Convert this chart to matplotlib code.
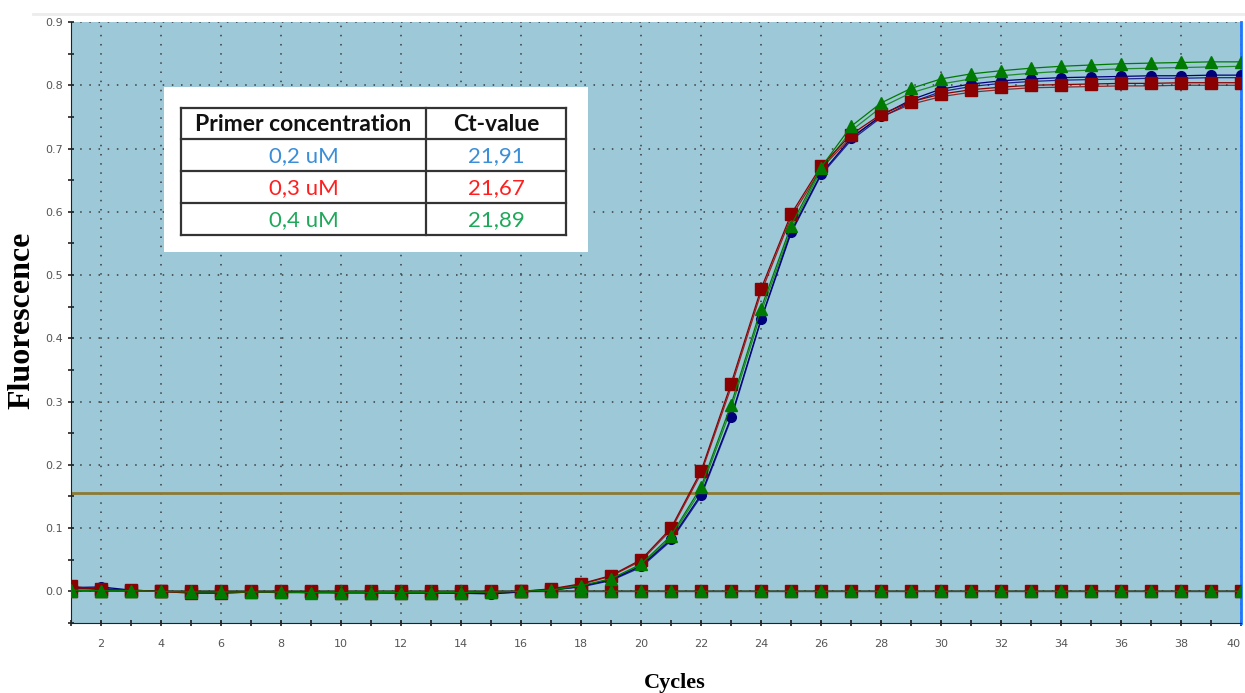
import matplotlib
matplotlib.use('Agg')
import matplotlib.pyplot as plt
from matplotlib.patches import Rectangle
from matplotlib.lines import Line2D
import numpy as np

#------------ DATA ----------------------------
cycles = list(range(1, 41))

# 0,2 uM (two replicates)
blue_a = [0.006, 0.007, 0.002, 0.000, -0.001, -0.001, -0.001, -0.001, -0.002, -0.002,
          -0.002, -0.002, -0.002, -0.003, -0.004, -0.001, 0.002, 0.008, 0.018, 0.040,
          0.082, 0.153, 0.275, 0.430, 0.568, 0.660, 0.716, 0.752, 0.777, 0.794,
          0.802, 0.807, 0.810, 0.812, 0.813, 0.814, 0.815, 0.815, 0.816, 0.816]
blue_b = [0.004, 0.005, 0.001, 0.000, -0.001, -0.001, -0.001, -0.002, -0.002, -0.002,
          -0.002, -0.003, -0.003, -0.003, -0.003, -0.001, 0.002, 0.007, 0.017, 0.038,
          0.080, 0.150, 0.272, 0.428, 0.566, 0.658, 0.713, 0.749, 0.773, 0.790,
          0.798, 0.803, 0.806, 0.808, 0.809, 0.810, 0.811, 0.811, 0.812, 0.812]

# 0,3 uM
red_a = [0.008, 0.003, 0.002, 0.000, -0.003, -0.003, -0.001, -0.001, -0.001, -0.002,
         -0.002, -0.002, -0.002, -0.002, -0.001, 0.000, 0.004, 0.012, 0.025, 0.050,
         0.100, 0.190, 0.328, 0.478, 0.596, 0.672, 0.722, 0.754, 0.774, 0.786,
         0.793, 0.797, 0.800, 0.801, 0.802, 0.803, 0.803, 0.804, 0.804, 0.804]
red_b = [0.006, 0.002, 0.001, 0.000, -0.002, -0.003, -0.001, -0.001, -0.001, -0.002,
         -0.002, -0.002, -0.002, -0.002, -0.001, 0.000, 0.003, 0.011, 0.024, 0.048,
         0.097, 0.186, 0.322, 0.472, 0.591, 0.668, 0.718, 0.750, 0.770, 0.782,
         0.789, 0.793, 0.796, 0.797, 0.798, 0.799, 0.799, 0.800, 0.800, 0.800]

# 0,4 uM
green_a = [0.002, 0.001, 0.001, 0.000, -0.001, -0.001, -0.001, -0.001, -0.002, -0.002,
           -0.002, -0.002, -0.002, -0.002, -0.001, 0.000, 0.002, 0.009, 0.020, 0.043,
           0.088, 0.165, 0.295, 0.447, 0.578, 0.670, 0.735, 0.772, 0.795, 0.810,
           0.818, 0.823, 0.827, 0.830, 0.832, 0.834, 0.835, 0.836, 0.837, 0.837]
green_b = [0.002, 0.001, 0.000, 0.000, -0.001, -0.001, -0.001, -0.001, -0.001, -0.002,
           -0.002, -0.002, -0.002, -0.002, -0.001, 0.000, 0.002, 0.008, 0.019, 0.041,
           0.085, 0.160, 0.288, 0.440, 0.572, 0.666, 0.728, 0.765, 0.788, 0.802,
           0.810, 0.815, 0.819, 0.822, 0.824, 0.826, 0.827, 0.828, 0.829, 0.830]

# no template controls
ntc = [0.001, 0.001, 0.001, 0.000, 0.000, 0.000, 0.000, 0.000, 0.000, 0.000,
       0.000, 0.000, 0.000, 0.000, 0.000, 0.000, 0.000, 0.000, 0.000, 0.000,
       0.000, 0.000, 0.000, 0.000, 0.000, 0.000, 0.000, 0.000, 0.000, 0.000,
       0.000, 0.000, 0.000, 0.000, 0.000, 0.000, 0.000, 0.000, 0.000, 0.000]

threshold = 0.155

concentrations = ['0,2 uM', '0,3 uM', '0,4 uM']
ct_values = ['21,91', '21,67', '21,89']
text_colors = ['#3b8ed8', '#ff1f1f', '#1fa85a']

#------------ DRAW ----------------------------
W, H = 1245, 693
fig = plt.figure(figsize=(W / 100, H / 100), dpi=100)
ax = fig.add_axes([71 / W, 1 - 623 / H, 1170 / W, 601 / H])
ax.set_facecolor('#9cc8d7')

series = [
    (blue_a, blue_b, '#00007a', 'o', 7),
    (red_a, red_b, '#8b0000', 's', 8),
    (green_a, green_b, '#007a00', '^', 9),
]
for rep_a, rep_b, col, mk, ms in series:
    ax.plot(cycles, ntc, color=col, lw=1.0, marker=mk, ms=ms, zorder=3)
    ax.plot(cycles, rep_b, color=col, lw=0.9, alpha=0.8, zorder=3)
    ax.plot(cycles, rep_a, color=col, lw=0.9, marker=mk, ms=ms, zorder=4)

# threshold line
ax.axhline(threshold, color='#8c7a32', lw=2, zorder=2)

ax.set_xlim(1, 40)
ax.set_ylim(-0.05, 0.9)

ax.set_xticks(np.arange(2, 41, 2))
ax.set_xticks(np.arange(1, 41, 1), minor=True)
ax.set_yticks(np.arange(0, 0.91, 0.1))
ax.set_yticks(np.arange(-0.05, 0.91, 0.05), minor=True)
ax.set_yticklabels(['%.1f' % v for v in np.arange(0, 0.91, 0.1)])

ax.tick_params(which='both', direction='inout', length=5, width=1.2,
               colors='#222222', labelcolor='#555555', labelsize=8)
ax.tick_params(axis='x', pad=9)
ax.tick_params(axis='y', pad=3)
# last cycle label sits at the right edge
ax.get_xticklabels()[-1].set_horizontalalignment('right')

ax.grid(which='major', color='#3c3c3c', lw=1.1, linestyle=(0, (1, 5)))
ax.set_axisbelow(True)

ax.spines['top'].set_visible(False)
ax.spines['right'].set_color('#1e78ff')
ax.spines['right'].set_linewidth(2)
ax.spines['left'].set_color('#222222')
ax.spines['bottom'].set_color('#222222')

fig.text(22 / W, 1 - 320 / H, 'Fluorescence', rotation=90, ha='center', va='center',
         family='Liberation Serif', weight='bold', fontsize=23)
fig.text(675 / W, 1 - 683 / H, 'Cycles', ha='center', va='center',
         family='Liberation Serif', weight='bold', fontsize=16)

# overlay in pixel units for the table box
ov = fig.add_axes([0, 0, 1, 1], zorder=10)
ov.set_xlim(0, W)
ov.set_ylim(H, 0)
ov.axis('off')
ov.add_line(Line2D([33, W], [14, 14], color='#ececec', lw=2))
ov.add_patch(Rectangle((164, 87), 424, 165, facecolor='white', edgecolor='none'))

tx0, tx1, tcol = 181, 566, 426
rows = [108, 139, 171, 203, 235]
for y in rows:
    ov.add_line(Line2D([tx0, tx1], [y, y], color='#333333', lw=1.6))
for x in [tx0, tcol, tx1]:
    ov.add_line(Line2D([x, x], [rows[0], rows[-1]], color='#333333', lw=1.6))

c1 = (tx0 + tcol) / 2
c2 = (tcol + tx1) / 2
ov.text(c1, (rows[0] + rows[1]) / 2 + 1, 'Primer concentration', ha='center', va='center',
        family='Lato', weight='bold', fontsize=16.5, color='#111111')
ov.text(c2, (rows[0] + rows[1]) / 2 + 1, 'Ct-value', ha='center', va='center',
        family='Lato', weight='bold', fontsize=16.5, color='#111111')
for i in range(3):
    yc = (rows[i + 1] + rows[i + 2]) / 2 + 1
    ov.text(c1, yc, concentrations[i], ha='center', va='center',
            family='Lato', fontsize=16, color=text_colors[i])
    ov.text(c2, yc, ct_values[i], ha='center', va='center',
            family='Lato', fontsize=16, color=text_colors[i])

fig.savefig('out.png', dpi=100)
